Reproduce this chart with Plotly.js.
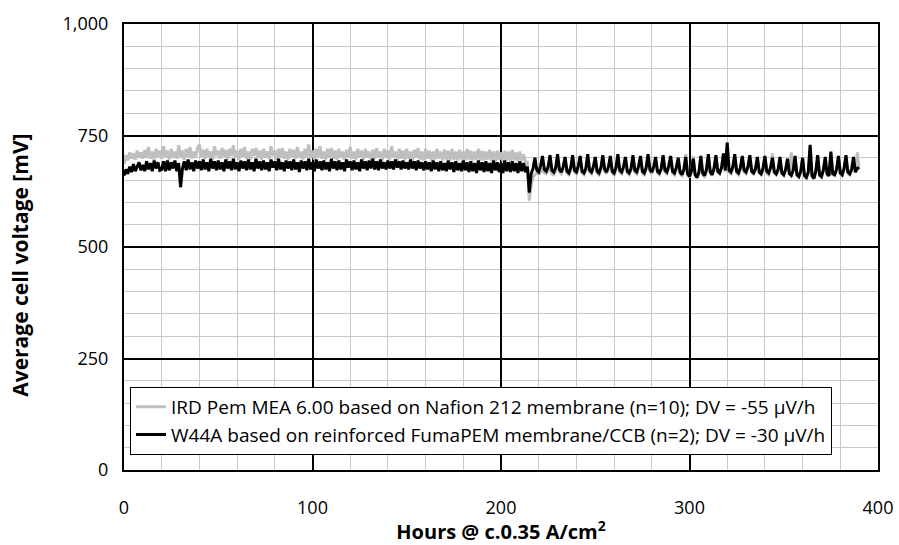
<!DOCTYPE html>
<html><head><meta charset="utf-8">
<script src="https://cdn.plot.ly/plotly-3.0.1.min.js"></script>
<style>body{margin:0;padding:0;background:#fff}#chart{width:899px;height:545px}</style>
</head><body><div id="chart"></div>
<script>
// Hours are sampled every 1 h starting at 0 h
var startHour = 0;
var stepHours = 1;

var seriesNames = [
  "IRD Pem MEA 6.00 based on Nafion 212 membrane (n=10); DV = -55 \u00b5V/h",
  "W44A based on reinforced FumaPEM membrane/CCB (n=2); DV = -30 \u00b5V/h"
];
var xTitle = '<b>Hours @ c.0.35 A/cm<sup>2</sup></b>';
var yTitle = '<b>Average cell voltage [mV]</b>';

// Average cell voltage [mV], IRD series (grey), hours 0..390
var irdVoltage = [
  686, 706, 694, 712, 698, 710, 696, 716, 700, 712,
  698, 718, 700, 724, 698, 714, 696, 720, 702, 716,
  698, 726, 702, 716, 696, 720, 700, 714, 698, 728,
  700, 716, 696, 720, 702, 724, 698, 714, 700, 722,
  730, 702, 718, 698, 720, 702, 714, 696, 726, 704,
  716, 698, 722, 702, 718, 696, 720, 704, 728, 700,
  716, 696, 720, 702, 724, 698, 714, 696, 720, 704,
  722, 700, 716, 696, 720, 702, 714, 698, 726, 704,
  716, 696, 720, 700, 722, 698, 714, 696, 720, 702,
  718, 698, 724, 700, 714, 696, 720, 702, 730, 700,
  716, 696, 720, 700, 726, 698, 714, 696, 720, 702,
  722, 698, 716, 696, 720, 700, 714, 696, 718, 702,
  724, 698, 714, 696, 720, 700, 716, 696, 720, 702,
  714, 696, 718, 698, 722, 700, 714, 694, 720, 700,
  716, 696, 726, 700, 714, 694, 720, 698, 716, 696,
  720, 698, 714, 694, 718, 700, 722, 696, 714, 694,
  720, 698, 716, 694, 714, 696, 720, 698, 714, 694,
  718, 696, 716, 694, 720, 696, 714, 694, 718, 696,
  714, 694, 720, 696, 716, 694, 714, 696, 720, 694,
  716, 694, 714, 696, 718, 694, 714, 692, 716, 696,
  712, 692, 716, 694, 714, 692, 718, 694, 712, 692,
  714, 694, 708, 690, 690, 604, 640, 656, 662, 666,
  664, 668, 676, 666, 664, 670, 684, 664, 662, 670,
  696, 668, 664, 674, 694, 666, 662, 672, 700, 668,
  664, 676, 698, 666, 662, 672, 702, 668, 664, 676,
  698, 666, 662, 674, 700, 670, 664, 676, 698, 666,
  662, 674, 702, 668, 664, 676, 698, 666, 662, 672,
  700, 668, 664, 678, 698, 666, 662, 674, 702, 670,
  664, 676, 698, 666, 662, 672, 700, 668, 664, 678,
  698, 666, 662, 674, 696, 664, 660, 670, 708, 662,
  656, 668, 704, 660, 654, 666, 700, 662, 658, 670,
  704, 666, 660, 672, 702, 668, 664, 676, 706, 668,
  728, 668, 664, 676, 704, 666, 662, 674, 700, 668,
  664, 676, 702, 668, 662, 672, 698, 666, 662, 672,
  700, 666, 662, 674, 710, 666, 662, 670, 698, 664,
  660, 672, 696, 662, 712, 670, 700, 660, 656, 668,
  698, 658, 654, 666, 724, 658, 652, 668, 702, 660,
  656, 670, 698, 662, 658, 710, 662, 660, 672, 700,
  664, 660, 674, 702, 666, 662, 672, 698, 666, 712,
  674
];

// Average cell voltage [mV], W44A series (black), hours 0..390
var w44aVoltage = [
  660, 674, 664, 680, 668, 686, 670, 680, 690, 672,
  684, 670, 692, 674, 688, 670, 694, 676, 690, 672,
  674, 692, 670, 694, 672, 690, 676, 694, 670, 688,
  634, 676, 692, 672, 696, 674, 690, 670, 694, 676,
  692, 672, 696, 674, 690, 670, 698, 676, 692, 672,
  694, 674, 690, 670, 696, 676, 692, 672, 698, 674,
  690, 670, 694, 676, 692, 672, 696, 674, 690, 670,
  698, 676, 692, 672, 694, 674, 690, 670, 696, 678,
  692, 672, 698, 674, 690, 670, 694, 676, 692, 672,
  696, 674, 690, 668, 694, 676, 692, 672, 698, 674,
  690, 670, 696, 676, 692, 672, 694, 674, 690, 670,
  698, 676, 692, 672, 694, 674, 690, 670, 696, 678,
  692, 672, 694, 674, 690, 670, 696, 676, 692, 672,
  694, 676, 698, 674, 692, 672, 696, 676, 690, 674,
  694, 676, 692, 674, 696, 678, 692, 674, 694, 676,
  690, 674, 696, 676, 692, 672, 694, 676, 690, 672,
  692, 674, 690, 670, 694, 674, 690, 670, 692, 672,
  688, 670, 694, 674, 690, 668, 692, 672, 688, 670,
  694, 672, 690, 668, 692, 670, 688, 666, 694, 672,
  690, 668, 692, 670, 688, 666, 694, 672, 690, 668,
  688, 666, 694, 670, 690, 668, 692, 670, 688, 666,
  692, 670, 688, 668, 680, 622, 664, 676, 700, 672,
  668, 682, 704, 674, 670, 680, 706, 672, 668, 678,
  708, 674, 668, 680, 702, 670, 666, 678, 706, 672,
  668, 682, 704, 670, 666, 676, 708, 672, 668, 680,
  702, 670, 666, 678, 706, 674, 668, 680, 704, 670,
  666, 678, 708, 672, 668, 680, 702, 670, 666, 676,
  706, 672, 668, 682, 704, 670, 666, 678, 708, 674,
  668, 680, 702, 670, 666, 676, 706, 672, 668, 682,
  704, 670, 666, 678, 700, 668, 662, 674, 702, 664,
  658, 670, 698, 662, 656, 668, 704, 666, 660, 674,
  708, 668, 662, 676, 706, 670, 666, 678, 710, 672,
  734, 672, 668, 680, 708, 670, 666, 678, 704, 672,
  668, 680, 706, 670, 666, 676, 702, 668, 664, 676,
  704, 670, 666, 678, 700, 668, 664, 674, 702, 666,
  662, 674, 698, 664, 660, 672, 704, 662, 658, 670,
  700, 660, 656, 668, 729, 660, 654, 670, 706, 662,
  658, 672, 702, 664, 660, 714, 664, 662, 674, 704,
  666, 662, 676, 706, 668, 664, 674, 702, 668, 676,
  678
];

var xTickVals = [0, 100, 200, 300, 400];
var yTickVals = [0, 250, 500, 750, 1000];

var FONT = '"Open Sans", "DejaVu Sans", sans-serif';

var traces = [
  {x0: startHour, dx: stepHours, y: irdVoltage, type: 'scatter', mode: 'lines',
   name: seriesNames[0], line: {color: '#bfbfbf', width: 3}},
  {x0: startHour, dx: stepHours, y: w44aVoltage, type: 'scatter', mode: 'lines',
   name: seriesNames[1], line: {color: '#000000', width: 3}}
];

var layout = {
  width: 899, height: 545,
  margin: {l: 124, r: 21, t: 24, b: 75},
  paper_bgcolor: '#ffffff', plot_bgcolor: '#ffffff',
  font: {family: FONT, size: 18, color: '#000'},
  showlegend: true,
  legend: {
    x: 0.008, y: 0.034, xanchor: 'left', yanchor: 'bottom',
    bgcolor: '#ffffff', bordercolor: '#000000', borderwidth: 1,
    font: {family: FONT, size: 19, color: '#000'},
    tracegroupgap: 0
  },
  xaxis: {
    range: [0, 400], tickvals: xTickVals, ticks: '',
    ticklabelstandoff: 20,
    showgrid: true, gridcolor: '#000000', gridwidth: 2,
    minor: {dtick: 20, showgrid: true, gridcolor: '#c8c8c8', gridwidth: 1},
    zeroline: false, showline: true, linecolor: '#000', linewidth: 2, mirror: true,
    tickfont: {family: FONT, size: 18},
    title: {text: xTitle, font: {family: FONT, size: 20}, standoff: 6}
  },
  yaxis: {
    range: [0, 1000], tickvals: yTickVals, tickformat: ',d', ticks: '',
    ticklabelstandoff: 10,
    showgrid: true, gridcolor: '#000000', gridwidth: 2,
    minor: {dtick: 50, showgrid: true, gridcolor: '#c8c8c8', gridwidth: 1},
    zeroline: false, showline: true, linecolor: '#000', linewidth: 2, mirror: true,
    tickfont: {family: FONT, size: 18}
  },
  annotations: [{
    text: yTitle, textangle: -90, showarrow: false,
    xref: 'paper', yref: 'paper', x: -0.138, y: 0.46,
    xanchor: 'center', yanchor: 'middle',
    font: {family: FONT, size: 21, color: '#000'}
  }]
};

Plotly.newPlot('chart', traces, layout, {staticPlot: true, displayModeBar: false});
</script>
</body></html>
